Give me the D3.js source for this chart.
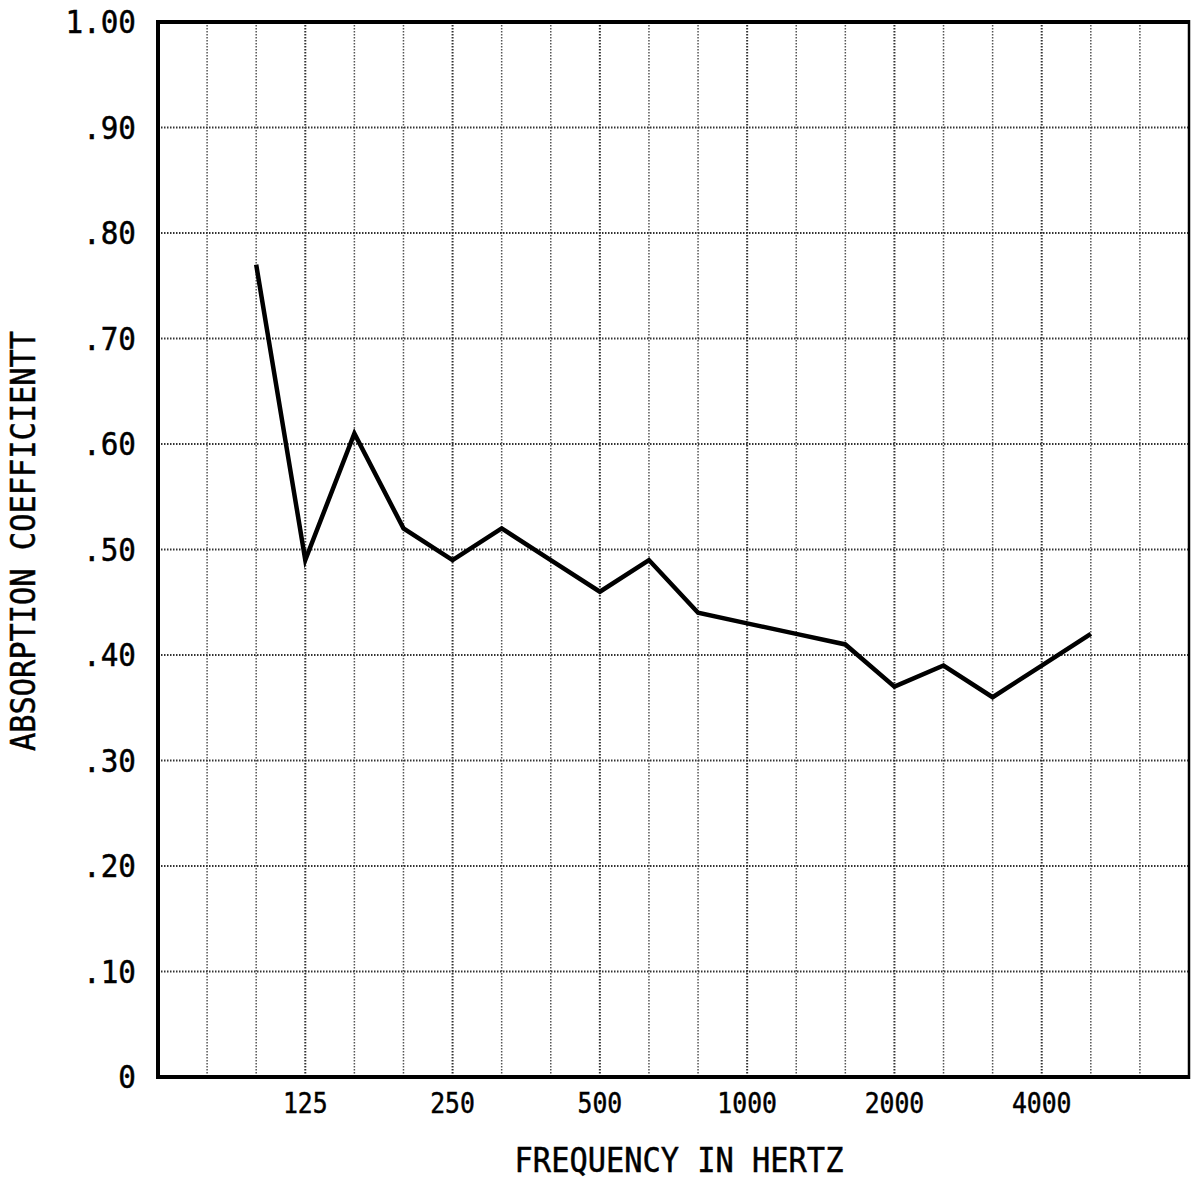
<!DOCTYPE html>
<html><head><meta charset="utf-8">
<script src="https://cdn.jsdelivr.net/npm/d3@7"></script>
<style>body{margin:0;background:#fff}svg{display:block}</style>
</head><body>
<script>
const bands = ["63","80","100","125","160","200","250","315","400","500","630","800","1000","1250","1600","2000","2500","3150","4000","5000","6300","8000"];
const tickLabels = ["125","250","500","1000","2000","4000"];
const freqs = ["100","125","160","200","250","315","400","500","630","800","1000","1250","1600","2000","2500","3150","4000","5000"];
const absorption = [0.77,0.49,0.61,0.52,0.49,0.52,0.49,0.46,0.49,0.44,0.43,0.42,0.41,0.37,0.39,0.36,0.39,0.42];
const yTicks = [0,0.1,0.2,0.3,0.4,0.5,0.6,0.7,0.8,0.9,1.0];
const yTickLabels = ["0",".10",".20",".30",".40",".50",".60",".70",".80",".90","1.00"];

const W=1191,H=1183;
const L=158,R=1189,T=22,B=1077;
const svg=d3.select("body").append("svg").attr("width",W).attr("height",H);
const x=d3.scalePoint().domain(bands).range([L,R]);
const y=d3.scaleLinear().domain([0,1]).range([B,T]);
const font="'DejaVu Sans Mono', monospace";

// grid
const g=svg.append("g");
g.selectAll("line.v").data(bands.slice(1,-1)).join("line")
 .attr("x1",d=>x(d)).attr("x2",d=>x(d)).attr("y1",T).attr("y2",B)
 .attr("stroke",d=>tickLabels.includes(d)?"#333":"#555")
 .attr("stroke-width",d=>tickLabels.includes(d)?2:1.5)
 .attr("stroke-dasharray","1.5,1.5");
g.selectAll("line.h").data(yTicks.slice(1,-1)).join("line")
 .attr("x1",L).attr("x2",R).attr("y1",d=>y(d)).attr("y2",d=>y(d))
 .attr("stroke","#333").attr("stroke-width",2.2).attr("stroke-dasharray","1.5,1.5");

// frame
svg.append("line").attr("x1",L).attr("x2",R).attr("y1",T).attr("y2",T).attr("stroke","#000").attr("stroke-width",4);
svg.append("line").attr("x1",L).attr("x2",R).attr("y1",B).attr("y2",B).attr("stroke","#000").attr("stroke-width",4);
svg.append("line").attr("x1",L).attr("x2",L).attr("y1",T-2).attr("y2",B+2).attr("stroke","#000").attr("stroke-width",4);
svg.append("line").attr("x1",R).attr("x2",R).attr("y1",T-2).attr("y2",B+2).attr("stroke","#000").attr("stroke-width",2.5);

function txt(sel){return sel.attr("font-family",font).attr("fill","#000").attr("stroke","#000").attr("stroke-width",0.5);}

// y labels
txt(svg.selectAll("text.yl").data(yTicks).join("text")
 .attr("transform",d=>`translate(136,${y(d)}) scale(0.93,1)`).attr("dy","0.36em")
 .attr("text-anchor","end").attr("font-size",31.5)
 .text((d,i)=>yTickLabels[i]));

// x labels
txt(svg.selectAll("text.xl").data(tickLabels).join("text")
 .attr("transform",d=>`translate(${x(d)},1113) scale(0.9,1)`).attr("text-anchor","middle")
 .attr("font-size",27.5).text(d=>d));

// titles
txt(svg.append("text").attr("transform","translate(679,1172) scale(0.92,1)").attr("text-anchor","middle")
 .attr("font-size",33).text("FREQUENCY IN HERTZ"));
txt(svg.append("text").attr("transform","translate(35,541) rotate(-90) scale(0.92,1)").attr("text-anchor","middle")
 .attr("font-size",33).text("ABSORPTION COEFFICIENTT"));

// data line
const line=d3.line().x((d,i)=>x(freqs[i])).y(d=>y(d));
svg.append("path").datum(absorption).attr("d",line)
 .attr("fill","none").attr("stroke","#000").attr("stroke-width",4.5).attr("stroke-linejoin","miter");
</script>
</body></html>
